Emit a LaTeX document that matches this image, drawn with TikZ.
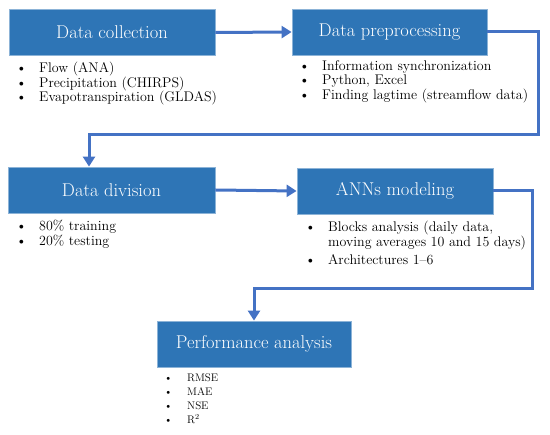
\documentclass[tikz,border=0pt]{standalone}
\usetikzlibrary{arrows.meta}
\definecolor{boxblue}{RGB}{46,117,182}
\definecolor{lineblue}{RGB}{68,114,196}
\newcommand{\bl}[1]{\makebox[23pt][l]{\textbullet}#1}
\begin{document}
\begin{tikzpicture}[
  x=1pt, y=-1pt,
  box/.style={draw=boxblue!55!white,fill=boxblue,line width=0.8pt,
    minimum height=46pt,text=white,font=\fontsize{18.5}{20}\selectfont},
  list/.style={anchor=north west,inner sep=0pt,align=left,
    font=\fontsize{14}{14.6}\selectfont},
  conn/.style={draw=lineblue,line width=3pt,
    -{Triangle[length=10pt,width=12pt]}}]
\useasboundingbox (0,0) rectangle (550,435);
% process boxes
\node[box,minimum width=206pt] (coll) at (112,32.5) {Data collection};
\node[box,minimum width=195pt] (prep) at (389.5,32) {Data preprocessing};
\node[box,minimum width=207pt] (div) at (111.5,190) {Data division};
\node[box,minimum width=196pt] (ann) at (395,191) {ANNs modeling};
\node[box,minimum width=194pt] (perf) at (254,344) {Performance analysis};
% bullet lists
\node[list] (collL) at (16,62) {\bl{Flow (ANA)}\\\bl{Precipitation (CHIRPS)}\\\bl{Evapotranspiration (GLDAS)}};
\node[list] (prepL) at (299,60) {\bl{Information synchronization}\\\bl{Python, Excel}\\\bl{Finding lagtime (streamflow data)}};
\node[list] (divL) at (16,220) {\bl{80\% training}\\\bl{20\% testing}};
\node[list] (annL) at (305,221) {\bl{Blocks analysis (daily data,}\\\hspace*{23pt}moving averages 10 and 15 days)\\[4pt]\bl{Architectures 1--6}};
\node[list,font=\fontsize{11}{13.7}\selectfont] (perfL) at (164,374) {\bl{RMSE}\\\bl{MAE}\\\bl{NSE}\\\bl{R\textsuperscript{2}}};
% connectors
\coordinate (t1) at (538,135);
\coordinate (d1) at (89,135);
\coordinate (t2) at (532,289);
\draw[conn] (coll.east) -- (prep.west);
\draw[conn] (prep.east) -| (t1) -- (d1) -- (d1 |- div.north);
\draw[conn] (div.east) -- (ann.west);
\draw[conn] (ann.east) -| (t2) -| (perf.north);
\end{tikzpicture}
\end{document}
